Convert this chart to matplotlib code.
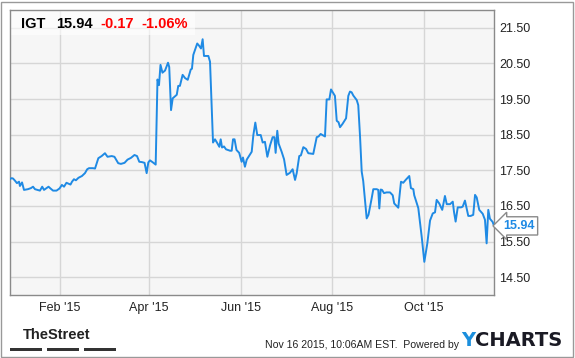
import numpy as np
import pandas as pd
import matplotlib
matplotlib.use("Agg")
import matplotlib.pyplot as plt
from matplotlib.patches import Rectangle

# IGT daily close (days counted from 1 Jan 2015)
days = [-2.0, -1.1, -0.2, 1.1, 2.4, 3.8, 4.4, 5.8, 7.1, 9.7, 11.7, 13.1, 14.4, 17.7, 19.2,
        20.4, 21.7, 23.4, 24.7, 26.4, 28.7, 30.7, 32.3, 33.7, 35.3, 38.0, 39.0, 40.3, 41.6,
        43.3, 45.6, 47.6, 49.1, 50.3, 52.9, 54.3, 56.5, 58.7, 60.9, 62.6, 65.4, 67.2, 69.7,
        71.5, 73.9, 75.9, 78.2, 80.5, 82.2, 83.7, 85.5, 87.2, 88.6, 89.7, 90.8, 92.8, 94.6,
        95.8, 96.8, 97.8, 99.1, 100.8, 102.8, 103.6, 104.8, 105.9, 108.6, 109.6, 110.7, 112.5,
        114.1, 115.9, 117.9, 118.7, 119.6, 122.2, 123.4, 124.7, 125.8, 126.7, 129.6, 130.7,
        132.7, 134.0, 135.3, 136.9, 137.8, 138.7, 140.0, 141.3, 144.0, 145.1, 146.0, 147.0,
        148.3, 150.1, 151.7, 152.6, 153.9, 155.1, 156.6, 158.4, 159.5, 160.8, 162.1, 164.4,
        165.7, 167.2, 168.8, 170.6, 172.3, 173.5, 174.3, 175.4, 176.3, 178.3, 179.9, 181.6,
        183.8, 185.6, 187.2, 188.3, 190.0, 191.1, 192.7, 194.5, 196.0, 199.3, 201.6, 202.8,
        204.2, 207.1, 208.2, 210.0, 211.1, 213.7, 214.9, 216.1, 217.1, 218.7, 221.1, 222.6,
        223.7, 224.8, 225.9, 228.2, 229.2, 230.4, 231.5, 232.5, 234.8, 236.0, 238.1, 239.2,
        241.5, 242.5, 243.2, 244.1, 245.0, 246.3, 248.0, 250.3, 252.1, 253.1, 255.8, 257.6,
        259.1, 260.7, 263.1, 264.2, 265.8, 266.4, 269.1, 271.4, 273.1, 275.1, 276.9, 278.7,
        280.2, 281.3, 283.0, 285.0, 286.8, 288.0, 290.2, 292.0, 292.8, 293.9, 295.3, 297.5,
        298.6, 300.1, 302.3, 303.9, 305.6, 306.8, 307.9, 309.6, 311.9, 313.4, 314.5, 315.6,
        316.7, 318.5, 319.4]
prices = [17.26, 17.28, 17.27, 17.21, 17.14, 17.18, 17.06, 17.16, 16.95, 16.97, 17.00, 17.04,
          16.97, 16.93, 17.04, 16.95, 16.99, 17.04, 16.99, 16.93, 16.93, 16.99, 17.09, 17.04,
          17.15, 17.10, 17.18, 17.25, 17.22, 17.29, 17.34, 17.42, 17.53, 17.56, 17.56, 17.55,
          17.84, 17.90, 17.98, 17.88, 17.90, 17.88, 17.70, 17.68, 17.71, 17.80, 17.85, 17.93,
          17.90, 17.74, 17.73, 17.71, 17.42, 17.72, 17.78, 17.72, 17.66, 20.05, 19.89, 20.46,
          20.24, 20.30, 20.52, 20.40, 19.19, 19.52, 19.62, 19.87, 19.87, 20.18, 20.09, 20.04,
          20.33, 20.35, 20.74, 21.06, 21.00, 20.92, 21.18, 20.71, 20.71, 20.55, 18.28, 18.37,
          18.28, 18.16, 18.37, 18.14, 18.17, 18.09, 18.05, 18.05, 18.37, 18.37, 18.07, 17.99,
          17.74, 17.86, 17.60, 17.80, 17.90, 18.02, 18.49, 18.84, 18.49, 18.49, 18.28, 18.30,
          17.88, 18.20, 18.43, 18.43, 17.99, 18.61, 18.25, 18.02, 17.81, 17.37, 17.43, 17.53,
          17.23, 17.42, 17.90, 17.92, 18.15, 18.10, 17.98, 17.96, 18.43, 18.45, 18.52, 18.45,
          19.49, 19.49, 19.77, 19.59, 18.89, 18.85, 18.71, 18.80, 18.96, 19.59, 19.71, 19.69,
          19.60, 19.47, 19.33, 18.44, 17.46, 17.20, 16.15, 16.25, 16.71, 16.97, 16.97, 16.95,
          16.43, 16.96, 16.95, 16.86, 16.88, 16.88, 16.80, 16.57, 16.45, 17.18, 17.15, 17.23,
          17.34, 17.00, 16.97, 16.80, 16.44, 15.62, 14.93, 15.45, 16.09, 16.29, 16.32, 16.67,
          16.57, 16.39, 16.78, 16.55, 16.55, 16.62, 16.34, 16.06, 16.46, 16.46, 16.48, 16.65,
          16.22, 16.22, 16.25, 16.81, 16.74, 16.39, 16.28, 16.11, 15.45, 16.39, 16.14, 16.05,
          15.94]

ticker = "IGT"
change = "-0.17"
change_pct = "-1.06%"
tick_dates = ["2015-02-01", "2015-04-01", "2015-06-01", "2015-08-01", "2015-10-01"]
tick_labels = ["Feb '15", "Apr '15", "Jun '15", "Aug '15", "Oct '15"]
y_ticks = [14.5, 15.5, 16.5, 17.5, 18.5, 19.5, 20.5, 21.5]
stamp = "Nov 16 2015, 10:06AM EST.  Powered by"

base = pd.Timestamp("2015-01-01")
dates = base + pd.to_timedelta(days, unit="D")

plt.rcParams["font.family"] = ["Liberation Sans", "DejaVu Sans"]
BLUE = "#1f8ae4"
W, H = 575, 358

fig = plt.figure(figsize=(W / 100, H / 100), dpi=100)
fig.patch.set_facecolor("white")
ax = fig.add_axes([10 / W, 63 / H, 484 / W, 285 / H])
ax.set_facecolor("#f6f6f6")

ax.plot(dates, prices, color=BLUE, lw=1.4, zorder=3)

ax.set_xlim(base + pd.Timedelta(days=-2.2), base + pd.Timedelta(days=319.4))
ax.set_ylim(14, 22)
ax.set_xticks(pd.to_datetime(tick_dates))
ax.set_xticklabels(tick_labels)
ax.set_yticks(y_ticks)
ax.set_yticklabels([f"{v:.2f}" for v in y_ticks])
ax.yaxis.tick_right()
ax.tick_params(axis="both", length=0, labelsize=9, colors="#222222")
ax.tick_params(axis="y", pad=4)
ax.tick_params(axis="x", pad=5)
ax.grid(True, color="#d6d6d6", lw=1, zorder=1)
for s in ax.spines.values():
    s.set_color("#8a8a8a")
    s.set_linewidth(1)

# header strip with ticker / last / change
ax.add_patch(Rectangle((0, 1 - 25 / 285), 185 / 484, 25 / 285, transform=ax.transAxes,
                       facecolor="white", alpha=0.6, edgecolor="none", zorder=2))
hy = 1 - 23.5 / H
fig.text(21 / W, hy, ticker, fontsize=10.5, fontweight="bold", color="black", va="center")
fig.text(56 / W, hy, f"{prices[-1]:.2f}", fontsize=10.5, fontweight="bold", color="black", va="center")
fig.text(100 / W, hy, change, fontsize=10.5, fontweight="bold", color="#ff0000", va="center")
fig.text(141 / W, hy, change_pct, fontsize=10.5, fontweight="bold", color="#ff0000", va="center")

# last price flag
ax.annotate(f"{prices[-1]:.2f}", xy=(1, prices[-1]), xycoords=("axes fraction", "data"),
            xytext=(6.5, 0), textcoords="offset points", ha="left", va="center",
            fontsize=9, fontweight="bold", color=BLUE, annotation_clip=False,
            bbox=dict(boxstyle="larrow,pad=0.25", fc="white", ec="#8a8a8a", lw=1))

# footer
fig.text(57 / W, 1 - 335 / H, "TheStreet", fontsize=10.5, fontweight="bold",
         color="#222222", ha="center", va="center")
for x0 in [10, 47, 84]:
    fig.add_artist(Rectangle((x0 / W, 1 - 350.5 / H), 32 / W, 3 / H, transform=fig.transFigure,
                             facecolor="#333333", edgecolor="none"))
fig.text(459 / W, 1 - 345 / H, stamp, fontsize=7.6, color="#222222", ha="right", va="center")
fig.text(475 / W, 1 - 341 / H, "Y", family="DejaVu Sans", fontsize=14, fontweight="bold",
         color="#1b8fdd", ha="right", va="center")
fig.text(475 / W, 1 - 341 / H, "CHARTS", family="DejaVu Sans", fontsize=14, fontweight="bold",
         color="#1a1a24", ha="left", va="center")

fig.add_artist(Rectangle((1 / W, 1 / H), 572 / W, 355 / H, transform=fig.transFigure,
                         facecolor="none", edgecolor="#999999", lw=1))

fig.savefig("out.png", dpi=100)
